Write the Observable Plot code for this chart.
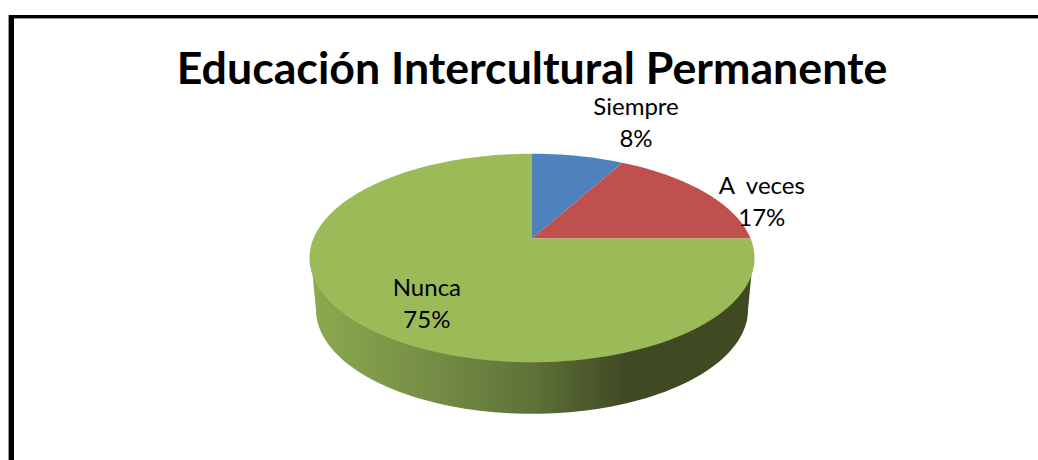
<!DOCTYPE html>
<html>
<head>
<meta charset="utf-8">
<script src="https://cdn.jsdelivr.net/npm/d3@7"></script>
<script src="https://cdn.jsdelivr.net/npm/@observablehq/plot@0.6"></script>
<style>
html,body{margin:0;padding:0;background:#fff;overflow:hidden;width:1038px;height:460px}
#frame{position:absolute;left:9px;top:15px;right:-10px;bottom:-10px;border-top:3px solid #000;border-left:5px solid #000;box-shadow:-1px 0 #999,inset 0 1px #999}
#chart{position:absolute;left:0;top:0}
svg{display:block;background:transparent !important}
</style>
</head>
<body>
<div id="frame"></div>
<div id="chart"></div>
<script>
const titleText = "Educación Intercultural Permanente";
const categories = ["Siempre", "A  veces", "Nunca"];
const percents = [8, 17, 75];
const colors = ["#4f81bd", "#c0504d", "#9bbb59"];

// Perspective of the tilted disc (circle to ellipse, the centre moves up)
const tilt = 0.187;
const rim = (theta) => {
  const u = Math.sin(theta), v = Math.cos(theta), d = 1 + tilt * v;
  return {x: u * Math.sqrt(1 - tilt * tilt) / d, y: (v + tilt) / d};
};
const total = d3.sum(percents);
const toAngle = (p) => (p / total) * 2 * Math.PI;

let cumulative = 0;
const slices = categories.map((name, i) => {
  const a0 = toAngle(cumulative);
  cumulative += percents[i];
  return {name, percent: percents[i], a0, a1: toAngle(cumulative)};
});
const apex = {x: 0, y: tilt};
const slicePts = slices.flatMap((s) => {
  const n = Math.ceil(((s.a1 - s.a0) / (2 * Math.PI)) * 360);
  const arc = d3.range(n + 1).map((k) => rim(s.a0 + ((s.a1 - s.a0) * k) / n));
  return [apex, ...arc, apex].map((p) => ({...p, name: s.name}));
});

// Side wall: a narrower lower rim, joined to the disc at its two tangents
const wallDrop = -0.494, wallScale = 0.971, tangentY = -0.16;
const wallPts = [
  {x: -0.986, y: tangentY},
  ...d3.range(0, 181, 2).map((deg) => {
    const t = (deg * Math.PI) / 180;
    return {x: -wallScale * Math.cos(t), y: wallDrop - Math.sin(t)};
  }),
  {x: 0.986, y: tangentY}
];

const defs = () => {
  const d = d3.create("svg:defs");
  const g = d.append("linearGradient").attr("id", "wall").attr("x1", 0).attr("x2", 1).attr("y1", 0).attr("y2", 0);
  [[0, "#8da94f"], [0.3, "#728a44"], [0.5, "#5f7238"], [0.71, "#3f4a23"], [1, "#3f4a23"]]
    .forEach(([o, c]) => g.append("stop").attr("offset", o).attr("stop-color", c));
  return d.node();
};

// Labels hang off the middle of each slice's rim
const labelOffsets = [[58, -35.5], [58, 8], [73, -19]];
const labelFont = {fontFamily: "Lato, 'Open Sans', sans-serif", fontSize: 24, fill: "#000", lineHeight: 1.33, textAnchor: "middle", lineAnchor: "middle"};
const labelMarks = slices.map((s, i) => {
  const p = rim((s.a0 + s.a1) / 2);
  return Plot.text([s], {
    x: () => p.x, y: () => p.y,
    text: (d) => `${d.name}\n${d.percent}%`,
    dx: labelOffsets[i][0], dy: labelOffsets[i][1],
    ...labelFont
  });
});

const chart = Plot.plot({
  width: 1038, height: 460,
  margin: 0,
  x: {domain: [-1, 1], range: [309, 754], axis: null},
  y: {domain: [-1, 1], range: [361.75, 153.25], axis: null},
  color: {domain: categories, range: colors},
  style: {background: "transparent"},
  marks: [
    defs,
    Plot.line(wallPts, {x: "x", y: "y", fill: "url(#wall)", stroke: "none"}),
    Plot.line(slicePts, {x: "x", y: "y", z: "name", fill: "name", stroke: "none"}),
    ...labelMarks,
    Plot.text([titleText], {
      x: () => 0, text: (d) => d, frameAnchor: "top", dy: 52, lineAnchor: "top",
      fontFamily: "Lato, 'Open Sans', sans-serif", fontWeight: 700, fontSize: 44.7, fill: "#000"
    })
  ]
});
document.getElementById("chart").appendChild(chart);
</script>
</body>
</html>
